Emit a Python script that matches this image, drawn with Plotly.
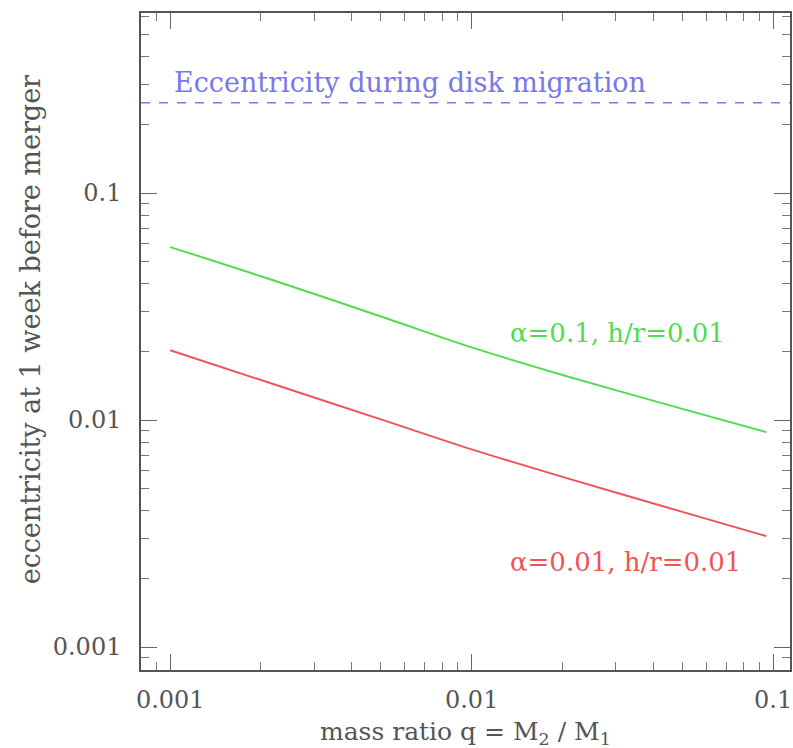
import plotly.graph_objects as go

# mass ratio q = M2/M1
q = [0.001, 0.002, 0.005, 0.01, 0.02, 0.05, 0.095]
# eccentricity one week before merger
ecc_alpha01 = [0.0578, 0.0430, 0.0286, 0.0209, 0.0158, 0.0112, 0.00885]
ecc_alpha001 = [0.0203, 0.0150, 0.01007, 0.00743, 0.00562, 0.00394, 0.00308]
# eccentricity during disk migration
ecc_migration = 0.25

x_ticks = [0.001, 0.01, 0.1]
x_ticklabels = ["0.001", "0.01", "0.1"]
y_ticks = [0.001, 0.01, 0.1]
y_ticklabels = ["0.001", "0.01", "0.1"]

FONT = "DejaVu Serif"
TEXT = "#555555"
GREEN = "rgb(80,220,80)"
RED = "rgb(240,85,85)"
BLUE = "rgb(120,120,235)"

fig = go.Figure()
fig.add_trace(go.Scatter(x=q, y=ecc_alpha01, mode="lines",
                         line=dict(color=GREEN, width=2), line_shape="spline",
                         showlegend=False))
fig.add_trace(go.Scatter(x=q, y=ecc_alpha001, mode="lines",
                         line=dict(color=RED, width=2), line_shape="spline",
                         showlegend=False))
fig.add_trace(go.Scatter(x=[0.0008, 0.114], y=[ecc_migration, ecc_migration],
                         mode="lines", line=dict(color=BLUE, width=1.5, dash="dash"),
                         showlegend=False))

# curve labels (log axes: positions given as log10 values)
fig.add_annotation(x=-2.993, y=-0.515, xref="x", yref="y",
                   text="Eccentricity during disk migration",
                   showarrow=False, xanchor="left", yanchor="middle",
                   font=dict(family=FONT, size=27, color=BLUE))
fig.add_annotation(x=-1.516, y=-1.617, xref="x", yref="y", text="α=0.1, h/r=0.01",
                   showarrow=False, xanchor="center", yanchor="middle",
                   font=dict(family=FONT, size=26, color=GREEN))
fig.add_annotation(x=-1.489, y=-2.626, xref="x", yref="y", text="α=0.01, h/r=0.01",
                   showarrow=False, xanchor="center", yanchor="middle",
                   font=dict(family=FONT, size=26, color=RED))

# axis titles
fig.add_annotation(x=0.5, y=-0.096, xref="paper", yref="paper",
                   text="mass ratio q = M<sub>2</sub> / M<sub>1</sub>",
                   showarrow=False, xanchor="center", yanchor="middle",
                   font=dict(family=FONT, size=25, color=TEXT))
fig.add_annotation(x=-0.1705, y=0.5175, xref="paper", yref="paper",
                   text="eccentricity at 1 week before merger", textangle=-90,
                   showarrow=False, xanchor="center", yanchor="middle",
                   font=dict(family=FONT, size=27, color=TEXT))

axis_common = dict(
    type="log", showgrid=False, zeroline=False,
    showline=True, linecolor="#555", linewidth=1.5, mirror="allticks",
    ticks="inside", ticklen=16, tickwidth=1, tickcolor="#666",
    tickfont=dict(family=FONT, size=24, color=TEXT),
    ticklabeloverflow="allow",
    minor=dict(ticks="inside", ticklen=8, tickwidth=1, tickcolor="#777",
               dtick="D1", showgrid=False),
)

fig.update_xaxes(range=[-3.097, -0.944], tickmode="array", tickvals=x_ticks,
                 ticktext=x_ticklabels, ticklabelstandoff=7, **axis_common)
fig.update_yaxes(range=[-3.101, -0.207], tickmode="array", tickvals=y_ticks,
                 ticktext=y_ticklabels, ticklabelstandoff=13, **axis_common)

fig.update_layout(width=793, height=748, plot_bgcolor="white", paper_bgcolor="white",
                  margin=dict(l=141, r=1, t=13, b=78))

fig.write_html("out.html")
